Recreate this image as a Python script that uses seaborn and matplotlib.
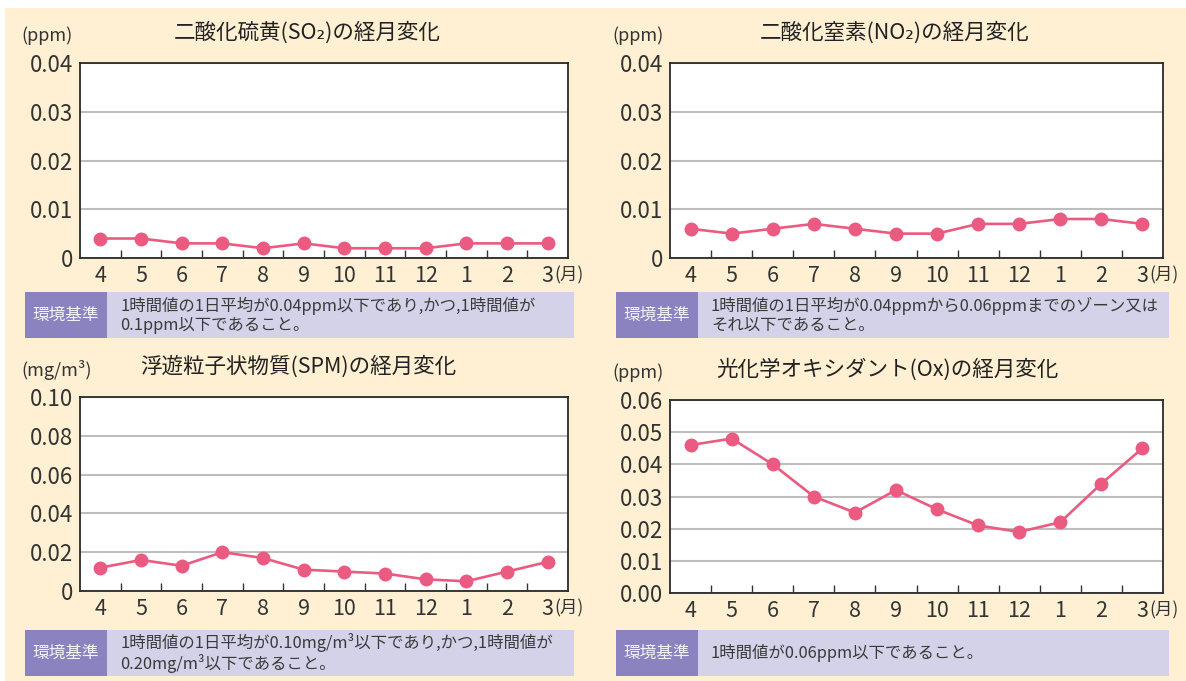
import numpy as np
import pandas as pd
import seaborn as sns
import matplotlib.pyplot as plt
from matplotlib.patches import Rectangle
from matplotlib.ticker import FixedLocator

# datos
months = ["4", "5", "6", "7", "8", "9", "10", "11", "12", "1", "2", "3"]

so2 = [0.004, 0.004, 0.003, 0.003, 0.002, 0.003, 0.002, 0.002, 0.002, 0.003, 0.003, 0.003]
no2 = [0.006, 0.005, 0.006, 0.007, 0.006, 0.005, 0.005, 0.007, 0.007, 0.008, 0.008, 0.007]
spm = [0.012, 0.016, 0.013, 0.020, 0.017, 0.011, 0.010, 0.009, 0.006, 0.005, 0.010, 0.015]
ox = [0.046, 0.048, 0.040, 0.030, 0.025, 0.032, 0.026, 0.021, 0.019, 0.022, 0.034, 0.045]

so2_ticks = [0, 0.01, 0.02, 0.03, 0.04]
so2_labels = ["0", "0.01", "0.02", "0.03", "0.04"]
spm_ticks = [0, 0.02, 0.04, 0.06, 0.08, 0.10]
spm_labels = ["0", "0.02", "0.04", "0.06", "0.08", "0.10"]
ox_ticks = [0, 0.01, 0.02, 0.03, 0.04, 0.05, 0.06]
ox_labels = ["0.00", "0.01", "0.02", "0.03", "0.04", "0.05", "0.06"]

titles = ["二酸化硫黄(SO₂)の経月変化", "二酸化窒素(NO₂)の経月変化",
          "浮遊粒子状物質(SPM)の経月変化", "光化学オキシダント(Ox)の経月変化"]
units = ["(ppm)", "(ppm)", "(mg/m³)", "(ppm)"]
notes = ["1時間値の1日平均が0.04ppm以下であり,かつ,1時間値が\n0.1ppm以下であること。",
         "1時間値の1日平均が0.04ppmから0.06ppmまでのゾーン又は\nそれ以下であること。",
         "1時間値の1日平均が0.10mg/m³以下であり,かつ,1時間値が\n0.20mg/m³以下であること。",
         "1時間値が0.06ppm以下であること。"]

CREAM = "#FFF0D3"
PINK = "#EB5A80"
PURPLE = "#8A83BF"
LAVENDER = "#D4D2E9"
TXT = "#333333"

sns.set_theme(style="white")
plt.rcParams["font.family"] = ["Noto Sans CJK JP", "DejaVu Sans"]

W, H = 1186, 681
fig = plt.figure(figsize=(W / 100, H / 100), dpi=100, facecolor="white")
fig.patches.append(Rectangle((5 / W, 0), 1, 1 - 8 / H, transform=fig.transFigure,
                             facecolor=CREAM, edgecolor="none", zorder=-10))


def px_box(x0, y0, x1, y1):
    # pixeles -> fracción de figura
    return [x0 / W, 1 - y1 / H, (x1 - x0) / W, (y1 - y0) / H]


def panel(box, values, ticks, tlabels, title, unit, note, ox0, oy0, title_x):
    ax = fig.add_axes(px_box(*box))
    ax.set_facecolor("white")
    df = pd.DataFrame({"pos": np.arange(len(months)), "value": values})
    sns.lineplot(data=df, x="pos", y="value", ax=ax, color=PINK, linewidth=1.9,
                 marker="o", markersize=10, markeredgewidth=0, zorder=5)
    ax.set_xlim(-0.5, len(months) - 0.5)
    ax.set_ylim(ticks[0], ticks[-1])
    ax.set_yticks(ticks)
    ax.set_yticklabels(tlabels, fontsize=16, color=TXT)
    ax.set_xticks(np.arange(len(months)))
    ax.set_xticklabels(months, fontsize=15.5, color=TXT)
    ax.xaxis.set_minor_locator(FixedLocator(np.arange(0.5, len(months) - 1, 1)))
    ax.tick_params(axis="x", which="major", length=0, pad=5)
    ax.tick_params(axis="x", which="minor", direction="in", length=6, width=1,
                   color="#333333", bottom=True)
    ax.tick_params(axis="y", length=0, pad=5)
    ax.set_xlabel("")
    ax.set_ylabel("")
    ax.grid(axis="y", color="#BEBEBE", linewidth=1.5)
    ax.grid(axis="x", visible=False)
    for s in ax.spines.values():
        s.set_color("#2a2a2a")
        s.set_linewidth(1.3)
    ax.annotate("(月)", xy=(len(months) - 1, 0), xycoords=("data", "axes fraction"),
                xytext=(5, -12.5), textcoords="offset points", ha="left", va="center",
                fontsize=12.5, color=TXT)

    fig.text(title_x / W, 1 - box[1] / H + 30 / H, title, ha="center", va="center",
             fontsize=15.5, color="#222222")
    fig.text(ox0 / W, 1 - (box[1] - 27) / H, unit, ha="left", va="center",
             fontsize=13, color=TXT)

    # recuadro de norma ambiental
    nx0, ny0 = ox0 + 4, oy0
    fig.patches.append(Rectangle((nx0 / W, 1 - (ny0 + 46) / H), 82 / W, 46 / H,
                                 transform=fig.transFigure, facecolor=PURPLE,
                                 edgecolor="none"))
    fig.patches.append(Rectangle(((nx0 + 82) / W, 1 - (ny0 + 46) / H),
                                 (box[2] + 6 - nx0 - 82) / W, 46 / H,
                                 transform=fig.transFigure, facecolor=LAVENDER,
                                 edgecolor="none"))
    fig.text((nx0 + 41) / W, 1 - (ny0 + 23) / H, "環境基準", ha="center", va="center",
             fontsize=12, color="#F2F2F8")
    fig.text((nx0 + 95) / W, 1 - (ny0 + 23) / H, note, ha="left", va="center",
             fontsize=11.8, color="#3a3a3a", linespacing=1.15)
    return ax


panel((80, 63, 568, 258), so2, so2_ticks, so2_labels, titles[0], units[0], notes[0],
      21, 292, 307)
panel((670, 63, 1163, 258), no2, so2_ticks, so2_labels, titles[1], units[1], notes[1],
      612, 292, 895)
panel((80, 397, 568, 591), spm, spm_ticks, spm_labels, titles[2], units[2], notes[2],
      21, 630, 298)
panel((670, 400, 1163, 593), ox, ox_ticks, ox_labels, titles[3], units[3], notes[3],
      612, 630, 887)

fig.savefig("out.png", dpi=100, facecolor="white")
